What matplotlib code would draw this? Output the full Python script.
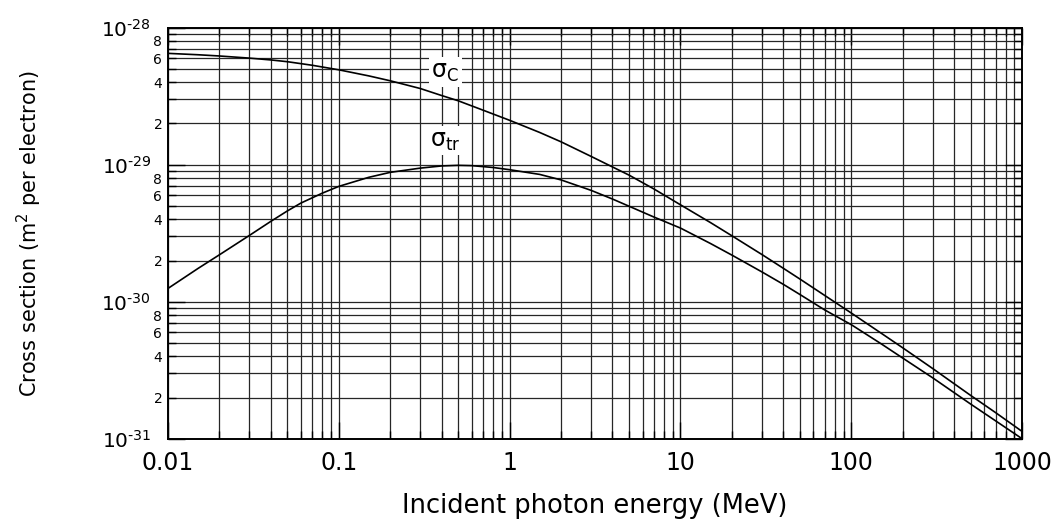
import numpy as np
import matplotlib
matplotlib.use("Agg")
import matplotlib.pyplot as plt
from matplotlib.ticker import FixedLocator, FuncFormatter, NullFormatter

plt.rcParams['font.family'] = ['DejaVu Sans']
plt.rcParams['mathtext.fontset'] = 'dejavusans'
plt.rcParams['mathtext.default'] = 'regular'

# Compton cross sections per electron (m^2)
energy_c = [0.01, 0.015, 0.02, 0.03, 0.04, 0.05, 0.07, 0.1, 0.15, 0.2, 0.3,
            0.4, 0.5, 0.7, 1, 1.5, 2, 3, 5, 7, 10, 15, 20, 30, 40, 50, 70,
            100, 150, 200, 300, 500, 700, 1000]
sigma_c = [6.5e-29, 6.35e-29, 6.22e-29, 6.0e-29, 5.82e-29, 5.65e-29,
           5.32e-29, 4.93e-29, 4.45e-29, 4.1e-29, 3.6e-29, 3.2e-29, 2.93e-29,
           2.5e-29, 2.11e-29, 1.72e-29, 1.47e-29, 1.15e-29, 8.4e-30,
           6.65e-30, 5.1e-30, 3.78e-30, 3.03e-30, 2.21e-30, 1.755e-30,
           1.465e-30, 1.11e-30, 8.27e-31, 5.88e-31, 4.61e-31, 3.25e-31,
           2.07e-31, 1.55e-31, 1.13e-31]

energy_tr = [0.01, 0.015, 0.02, 0.03, 0.04, 0.05, 0.06, 0.08, 0.1, 0.15,
             0.2, 0.3, 0.4, 0.5, 0.6, 0.8, 1, 1.5, 2, 3, 4, 5, 7, 10, 15, 20,
             30, 40, 50, 70, 100, 150, 200, 300, 500, 700, 1000]
sigma_tr = [1.25e-30, 1.75e-30, 2.2e-30, 3.05e-30, 3.86e-30, 4.6e-30,
            5.25e-30, 6.2e-30, 6.95e-30, 8.1e-30, 8.8e-30, 9.45e-30, 9.8e-30,
            9.9e-30, 9.85e-30, 9.55e-30, 9.2e-30, 8.5e-30, 7.75e-30, 6.5e-30,
            5.62e-30, 4.98e-30, 4.15e-30, 3.45e-30, 2.66e-30, 2.19e-30,
            1.65e-30, 1.34e-30, 1.13e-30, 8.7e-31, 6.8e-31, 4.92e-31,
            3.88e-31, 2.78e-31, 1.79e-31, 1.35e-31, 1.0e-31]

x_ticks = [0.01, 0.1, 1, 10, 100, 1000]
y_decades = [-31, -30, -29, -28]
minor_labelled = [2, 4, 6, 8]

x_minor = [m * 10.0 ** e for e in range(-2, 3) for m in range(2, 10)]
y_minor = [m * 10.0 ** e for e in y_decades[:-1] for m in range(2, 10)]

fig = plt.figure(figsize=(10.56, 5.23), dpi=100)
ax = fig.add_axes([0.159, 0.161, 0.809, 0.786])

ax.plot(energy_c, sigma_c, color='black', lw=1.2)
ax.plot(energy_tr, sigma_tr, color='black', lw=1.2)

ax.set_xscale('log')
ax.set_yscale('log')
ax.set_xlim(0.01, 1000)
ax.set_ylim(1e-31, 1e-28)

ax.xaxis.set_major_locator(FixedLocator(x_ticks))
ax.xaxis.set_major_formatter(FuncFormatter(lambda v, p: '%g' % v))
ax.xaxis.set_minor_locator(FixedLocator(x_minor))
ax.xaxis.set_minor_formatter(NullFormatter())

ax.yaxis.set_major_locator(FixedLocator([10.0 ** e for e in y_decades]))
ax.yaxis.set_major_formatter(FuncFormatter(
    lambda v, p: r'$10^{\text{-}%d}$' % abs(round(np.log10(v)))))
ax.yaxis.set_minor_locator(FixedLocator(y_minor))


def minor_label(v, pos):
    m = int(round(v / 10 ** np.floor(np.log10(v) + 1e-9)))
    return str(m) if m in minor_labelled else ''


ax.yaxis.set_minor_formatter(FuncFormatter(minor_label))

ax.grid(True, which='both', color='0.15', lw=0.9)
ax.tick_params(which='both', direction='in', top=True, right=True,
               color='black', width=1.0)
ax.tick_params(which='major', length=12)
ax.tick_params(which='minor', length=6)
ax.tick_params(axis='x', which='major', labelsize=17, pad=9)
ax.tick_params(axis='y', which='major', labelsize=14.5, pad=12)
ax.tick_params(axis='y', which='minor', labelsize=10, pad=4)
for s in ax.spines.values():
    s.set_linewidth(1.4)

ax.set_xlabel('Incident photon energy (MeV)', fontsize=18.5)
ax.xaxis.label.set_va('center')
ax.xaxis.set_label_coords(0.5, -0.163)
ax.set_ylabel(r'Cross section (m$^2$ per electron)', fontsize=15)
ax.yaxis.label.set_va('center')
ax.yaxis.set_label_coords(-0.162, 0.5)

box = dict(facecolor='white', edgecolor='none', pad=2)
ax.text(0.42, 4.75e-29, r'$\sigma_{C}$', fontsize=17, ha='center',
        va='center', bbox=box)
ax.text(0.42, 1.5e-29, r'$\sigma_{tr}$', fontsize=17, ha='center',
        va='center', bbox=box)

fig.savefig('out.png', dpi=100)
